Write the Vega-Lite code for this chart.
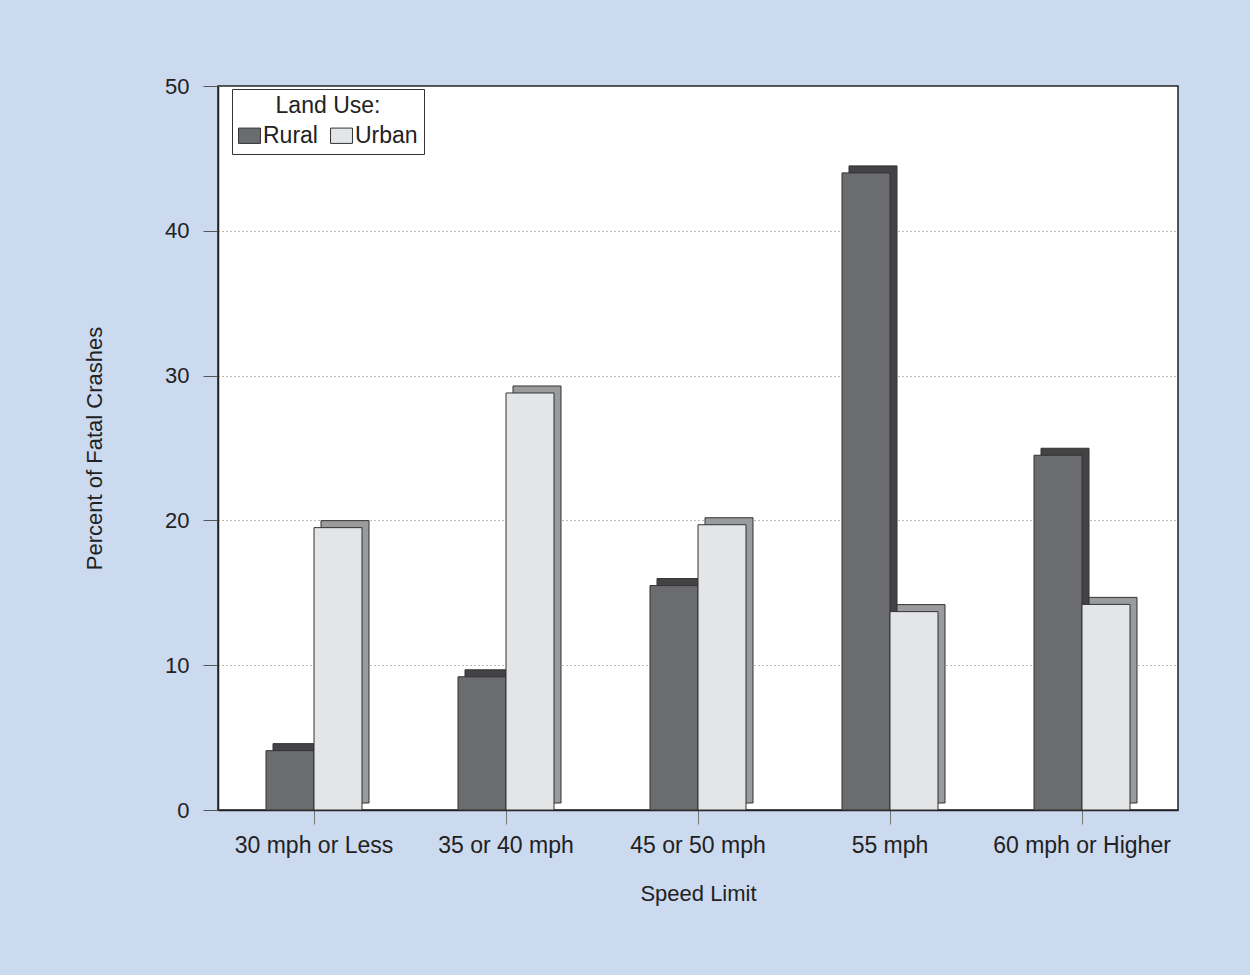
{
  "$schema": "https://vega.github.io/schema/vega-lite/v6.json",
  "autosize": {"type": "none"},
  "width": 960,
  "height": 724,
  "padding": {"left": 218, "top": 86, "right": 72, "bottom": 165},
  "background": "#cbdaef",
  "config": {
    "font": "Liberation Sans",
    "view": {"fill": "white", "stroke": "#222222", "strokeWidth": 1.5},
    "axis": {"labelFont": "Liberation Sans", "titleFont": "Liberation Sans", "labelColor": "#222222", "titleColor": "#222222"},
    "legend": {"labelFont": "Liberation Sans", "titleFont": "Liberation Sans"}
  },
  "data": {
    "values": [
      {"speed": "30 mph or Less", "land": "Rural", "pct": 4.1},
      {"speed": "30 mph or Less", "land": "Urban", "pct": 19.5},
      {"speed": "35 or 40 mph", "land": "Rural", "pct": 9.2},
      {"speed": "35 or 40 mph", "land": "Urban", "pct": 28.8},
      {"speed": "45 or 50 mph", "land": "Rural", "pct": 15.5},
      {"speed": "45 or 50 mph", "land": "Urban", "pct": 19.7},
      {"speed": "55 mph", "land": "Rural", "pct": 44.0},
      {"speed": "55 mph", "land": "Urban", "pct": 13.7},
      {"speed": "60 mph or Higher", "land": "Rural", "pct": 24.5},
      {"speed": "60 mph or Higher", "land": "Urban", "pct": 14.2}
    ]
  },
  "encoding": {
    "x": {
      "field": "speed", "type": "nominal", "sort": null,
      "scale": {"paddingInner": 0.5, "paddingOuter": 0.25},
      "axis": {
        "title": "Speed Limit", "labelAngle": 0, "labelFontSize": 23, "titleFontSize": 22,
        "titleFontWeight": "normal", "labelPadding": 10, "titlePadding": 26,
        "tickSize": 14, "tickColor": "#777777", "domainColor": "#222222", "domainWidth": 1.5
      }
    },
    "y": {
      "field": "pct", "type": "quantitative",
      "scale": {"domain": [0, 50]},
      "axis": {
        "title": "Percent of Fatal Crashes", "values": [0, 10, 20, 30, 40, 50],
        "labelFontSize": 22, "titleFontSize": 22, "titleFontWeight": "normal",
        "labelPadding": 14, "titlePadding": 58, "tickSize": 15, "tickColor": "#555555",
        "domainColor": "#222222", "domainWidth": 1.5,
        "grid": true, "gridColor": "#777777", "gridDash": [1, 3], "gridWidth": 1
      }
    }
  },
  "layer": [
    {
      "mark": {"type": "bar", "yOffset": -7, "stroke": "#333333", "strokeWidth": 1},
      "encoding": {
        "xOffset": {"field": "land", "type": "nominal", "scale": {"range": [7, 103]}},
        "color": {
          "field": "land", "type": "nominal",
          "scale": {"domain": ["Rural", "Urban"], "range": ["#434346", "#9a9b9d"]},
          "legend": null
        }
      }
    },
    {
      "mark": {"type": "bar", "stroke": "#333333", "strokeWidth": 1},
      "encoding": {
        "xOffset": {"field": "land", "type": "nominal"},
        "color": {
          "field": "land", "type": "nominal",
          "scale": {"domain": ["Rural", "Urban"], "range": ["#6b6c70", "#e4e5e7"]},
          "legend": {
            "title": "Land Use:", "orient": "none", "legendX": 14, "legendY": 3,
            "direction": "horizontal", "titleAnchor": "middle", "titleFontSize": 23,
            "titleFontWeight": "normal", "titleColor": "#222222", "labelFontSize": 23,
            "labelColor": "#222222", "symbolType": "M-1,-0.7H1V0.7H-1Z", "symbolSize": 480,
            "symbolStrokeColor": "#333333", "symbolStrokeWidth": 1, "fillColor": "white",
            "strokeColor": "#333333", "padding": 6, "columnPadding": 10, "labelOffset": 2,
            "titlePadding": 6
          }
        }
      }
    }
  ],
  "resolve": {"scale": {"color": "independent", "xOffset": "independent"}, "legend": {"color": "independent"}}
}
